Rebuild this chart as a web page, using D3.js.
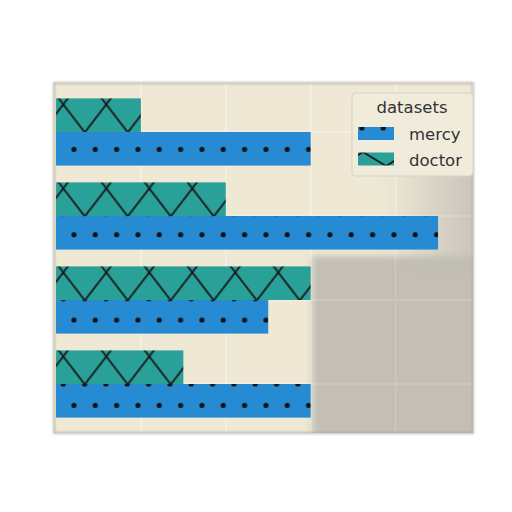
<!DOCTYPE html>
<html>
<head>
<meta charset="utf-8">
<script src="https://cdn.jsdelivr.net/npm/d3@7"></script>
<style>
  body { margin: 0; background: #fff; }
  svg { display: block; font-family: "DejaVu Sans", sans-serif; }
</style>
</head>
<body>
<svg id="chart" width="512" height="512"></svg>
<script>
// data, top row first
const categories = ["c1", "c2", "c3", "c4"];
const mercy = [3, 4.5, 2.5, 3];
const doctor = [1, 2, 3, 1.5];
const seriesNames = ["mercy", "doctor"];
const xTicks = [1, 2, 3, 4];

const colors = { mercy: "#268bd2", doctor: "#2aa198" };
const plot = { left: 56, right: 472, top: 83, bottom: 433 };

const svg = d3.select("#chart");
const defs = svg.append("defs");

const x = d3.scaleLinear().domain([0, 4.9]).range([plot.left, plot.right]);
const y = d3.scaleBand()
  .domain(categories)
  .range([plot.top, plot.bottom])
  .paddingInner(0.2)
  .paddingOuter(0.183);

// dot hatch for mercy, anchored to the page
const dotW = 21.33, dotH = 42.67;
const dots = defs.append("pattern")
  .attr("id", "dots")
  .attr("patternUnits", "userSpaceOnUse")
  .attr("x", 63.3).attr("y", 298.7)
  .attr("width", dotW).attr("height", dotH);
dots.append("rect").attr("width", dotW).attr("height", dotH).attr("fill", colors.mercy);
[[0, 0], [dotW, 0], [0, dotH], [dotW, dotH], [dotW / 2, dotH / 2]].forEach(p => {
  dots.append("circle").attr("cx", p[0]).attr("cy", p[1]).attr("r", 2.6).attr("fill", "#111");
});

// cross hatch for doctor, one pattern per bar so it starts at each bar top
function crossPattern(id, px, py, w, h) {
  const p = defs.append("pattern")
    .attr("id", id)
    .attr("patternUnits", "userSpaceOnUse")
    .attr("x", px).attr("y", py)
    .attr("width", w).attr("height", h);
  p.append("rect").attr("width", w).attr("height", h).attr("fill", colors.doctor);
  const e = 0.15;
  p.append("line")
    .attr("x1", -w * e).attr("y1", -h * e).attr("x2", w * (1 + e)).attr("y2", h * (1 + e));
  p.append("line")
    .attr("x1", w * (1 + e)).attr("y1", -h * e).attr("x2", -w * e).attr("y2", h * (1 + e));
  p.selectAll("line").attr("stroke", "#141414").attr("stroke-width", 1.7);
}
categories.forEach((c, i) => crossPattern(`cross-${i}`, 63.3, y(c) + 6, 43, 56));
crossPattern("cross-legend", 363, 152, 46, 28);

// soft blur for the paper shadows
const blur = defs.append("filter").attr("id", "blur")
  .attr("x", "-20%").attr("y", "-20%").attr("width", "140%").attr("height", "140%");
blur.append("feGaussianBlur").attr("stdDeviation", 3);
const blurWide = defs.append("filter").attr("id", "blurWide")
  .attr("x", "-30%").attr("y", "-30%").attr("width", "160%").attr("height", "160%");
blurWide.append("feGaussianBlur").attr("stdDeviation", 9);
const blurEdge = defs.append("filter").attr("id", "blurEdge")
  .attr("x", "-5%").attr("y", "-5%").attr("width", "110%").attr("height", "110%");
blurEdge.append("feGaussianBlur").attr("stdDeviation", 1.2);

const upperShade = defs.append("linearGradient").attr("id", "upperShade")
  .attr("x1", "0").attr("y1", "0").attr("x2", "1").attr("y2", "0");
upperShade.append("stop").attr("offset", "0").attr("stop-color", "#bfbbb3").attr("stop-opacity", 0);
upperShade.append("stop").attr("offset", "0.6").attr("stop-color", "#bfbbb3").attr("stop-opacity", 0.55);
upperShade.append("stop").attr("offset", "1").attr("stop-color", "#bfbbb3").attr("stop-opacity", 0.85);

// axes background
svg.append("rect")
  .attr("x", plot.left - 2).attr("y", plot.top)
  .attr("width", plot.right - plot.left + 2).attr("height", plot.bottom - plot.top)
  .attr("fill", "#eee8d5");

function drawGrid(opacity) {
  const g = svg.append("g").attr("stroke", "#fbf5e6").attr("stroke-width", 1.3).attr("opacity", opacity);
  g.selectAll(".vx").data(xTicks).join("line")
    .attr("x1", d => x(d)).attr("x2", d => x(d))
    .attr("y1", plot.top).attr("y2", plot.bottom);
  g.selectAll(".hy").data(categories).join("line")
    .attr("x1", plot.left).attr("x2", plot.right)
    .attr("y1", d => y(d) + y.bandwidth() / 2).attr("y2", d => y(d) + y.bandwidth() / 2);
}
drawGrid(0.8);

// gray shading over the lower right (photo shadow)
const shade = svg.append("g").attr("clip-path", "url(#plotClip)");
defs.append("clipPath").attr("id", "plotClip").append("rect")
  .attr("x", plot.left - 2).attr("y", plot.top)
  .attr("width", plot.right - plot.left + 3).attr("height", plot.bottom - plot.top);
shade.append("rect")
  .attr("x", 385).attr("y", 160).attr("width", 100).attr("height", 110)
  .attr("fill", "url(#upperShade)")
  .attr("filter", "url(#blurWide)");
shade.append("rect")
  .attr("x", 312).attr("y", 256).attr("width", 170).attr("height", 190)
  .attr("fill", "#bfbbb3")
  .attr("opacity", 0.9)
  .attr("filter", "url(#blur)");
drawGrid(0.18);

// bars
const half = y.bandwidth() / 2;
svg.append("g").selectAll("rect").data(categories).join("rect")
  .attr("x", x(0))
  .attr("y", d => y(d))
  .attr("width", (d, i) => x(doctor[i]) - x(0))
  .attr("height", half)
  .attr("fill", (d, i) => `url(#cross-${i})`);
svg.append("g").selectAll("rect").data(categories).join("rect")
  .attr("x", x(0))
  .attr("y", d => y(d) + half)
  .attr("width", (d, i) => x(mercy[i]) - x(0))
  .attr("height", half)
  .attr("fill", "url(#dots)");

// paper edge
svg.append("rect")
  .attr("x", plot.left - 2).attr("y", plot.top)
  .attr("width", plot.right - plot.left + 3).attr("height", plot.bottom - plot.top)
  .attr("fill", "none")
  .attr("stroke", "#aaa69d")
  .attr("stroke-width", 1.5)
  .attr("filter", "url(#blurEdge)");

// legend
const lg = svg.append("g");
lg.append("rect")
  .attr("x", 352).attr("y", 93).attr("width", 121).attr("height", 83)
  .attr("rx", 4)
  .attr("fill", "#f0ebdb")
  .attr("stroke", "#d8d3c4")
  .attr("stroke-width", 1);
lg.append("text")
  .attr("x", 412).attr("y", 113)
  .attr("text-anchor", "middle")
  .attr("font-size", 16.5)
  .attr("fill", "#333")
  .text("datasets");
const legendFill = { mercy: "url(#dots)", doctor: "url(#cross-legend)" };
seriesNames.forEach((s, i) => {
  const yy = 127 + i * 25.5;
  lg.append("rect")
    .attr("x", 358).attr("y", yy).attr("width", 36).attr("height", 13)
    .attr("fill", legendFill[s]);
  lg.append("text")
    .attr("x", 409).attr("y", yy + 13)
    .attr("font-size", 16.5)
    .attr("fill", "#333")
    .text(s);
});
</script>
</body>
</html>
